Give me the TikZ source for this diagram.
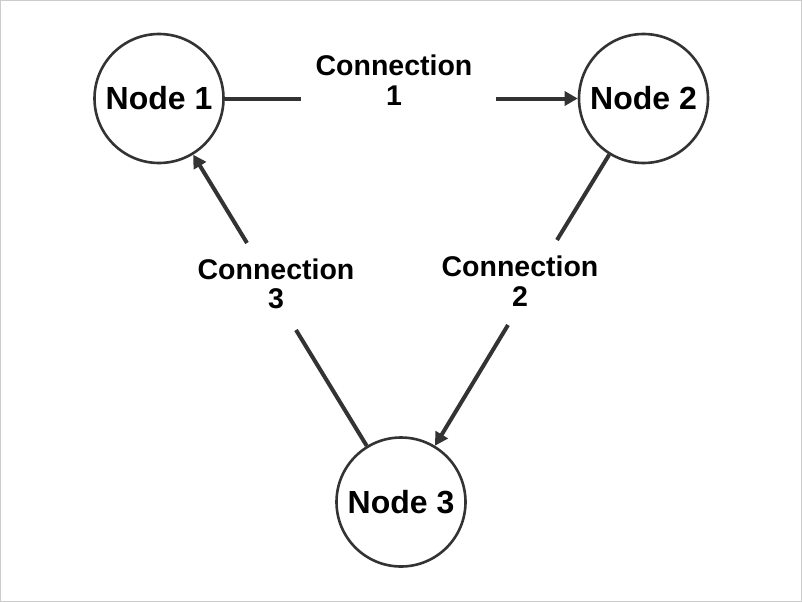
\documentclass[tikz,border=0pt]{standalone}
\usepackage{fontspec}
\setmainfont{Liberation Sans}
\usetikzlibrary{arrows.meta}
\definecolor{ink}{HTML}{333333}
\definecolor{frame}{HTML}{CCCCCC}
\begin{document}
\begin{tikzpicture}[x=1pt,y=-1pt,
  vertex/.style={circle,draw=ink,line width=2.6pt,minimum size=129pt,inner sep=0pt,
    font=\fontsize{32}{36}\selectfont\bfseries},
  link/.style={draw=ink,line width=4pt},
  linktip/.style={link,-{Triangle[length=13pt,width=14pt]}},
  linklabel/.style={align=center,inner sep=0pt,font=\fontsize{28.5}{29.5}\selectfont\bfseries}]
  \useasboundingbox (0,0) rectangle (802,602);
  \draw[frame,line width=1pt] (0.5,0.5) rectangle (801.5,601.5);

  % nodes
  \node[vertex] (n1) at (159,98.5) {Node 1};
  \node[vertex] (n2) at (643.5,98.5) {Node 2};
  \node[vertex] (n3) at (401,502) {Node 3};

  % labels
  \node[linklabel] (l1) at (394,80) {Connection\\1};
  \node[linklabel] (l2) at (520,281) {Connection\\2};
  \node[linklabel] (l3) at (276,284) {Connection\\3};

  % gap ends around the labels
  \coordinate (g1a) at (301,98.5);
  \coordinate (g1b) at (496,98.5);
  \coordinate (g2a) at (557,240);
  \coordinate (g2b) at (508,325);
  \coordinate (g3a) at (296,330);
  \coordinate (g3b) at (247,243);

  % connectors
  \draw[link] (n1) -- (g1a);
  \draw[linktip] (g1b) -- (n2);
  \draw[link] (n2) -- (g2a);
  \draw[linktip] (g2b) -- (n3);
  \draw[link] (n3) -- (g3a);
  \draw[linktip] (g3b) -- (n1);
\end{tikzpicture}
\end{document}
